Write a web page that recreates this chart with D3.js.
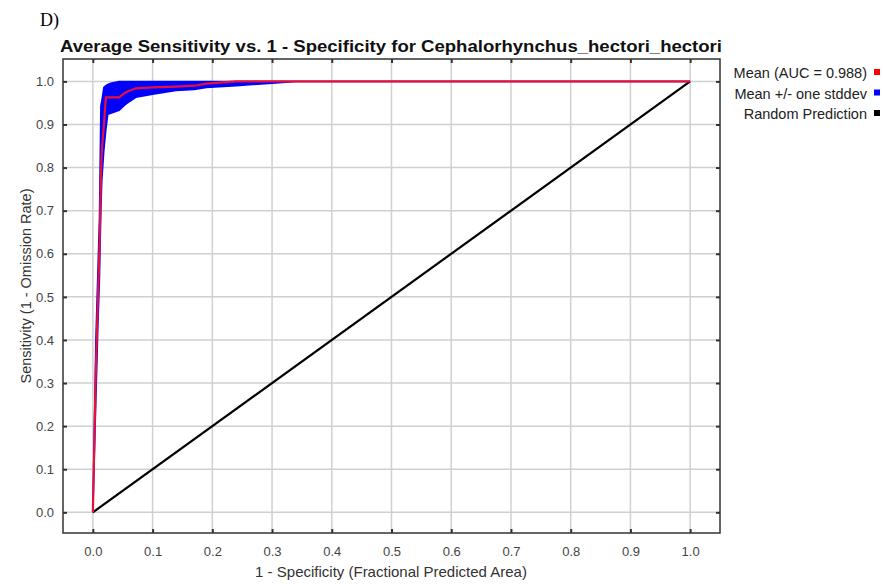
<!DOCTYPE html>
<head>
    <meta charset="utf-8">
    <style>
        body { margin: 0; background: #fff; }
        svg { display: block; }
    </style>
</head>
<body>
    <div id="chart-area"></div>
    <script src="https://cdn.jsdelivr.net/npm/d3@7"></script>
    <script>
        // (fractional predicted area vs sensitivity)
        var fpr   = [0, 0.005, 0.0084, 0.011, 0.0134, 0.015, 0.0184, 0.0217, 0.025, 0.030, 0.044, 0.055, 0.072, 0.10, 0.139, 0.17, 0.19, 0.24, 0.30, 0.34, 0.5, 1.0]
        var meanTpr  = [0, 0.331, 0.493, 0.609, 0.771, 0.840, 0.898, 0.963, 0.963, 0.963, 0.963, 0.975, 0.984, 0.986, 0.988, 0.990, 0.995, 1.0, 1.0, 1.0, 1.0, 1.0]
        var upperTpr = [0, 0.40, 0.56, 0.68, 0.944, 0.955, 0.986, 0.990, 0.993, 0.996, 1.0, 1.0, 1.0, 1.0, 1.0, 1.0, 1.0, 1.0, 1.0, 1.0, 1.0, 1.0]
        var lowerTpr = [0, 0.26, 0.43, 0.54, 0.70, 0.77, 0.84, 0.887, 0.924, 0.926, 0.933, 0.947, 0.963, 0.970, 0.979, 0.981, 0.986, 0.990, 0.996, 1.0, 1.0, 1.0]
        var randomX = [0, 1]
        var tickVals = [0, 0.1, 0.2, 0.3, 0.4, 0.5, 0.6, 0.7, 0.8, 0.9, 1.0]
        var legendLabels = ["Mean (AUC = 0.988)", "Mean +/- one stddev", "Random Prediction"]
        var legendColors = ["#ff0000", "#0000ff", "#000000"]

        var W = 883, H = 584
        var margins = { top: 59, left: 63, right: 163, bottom: 51 }
        var width = W - margins.left - margins.right,
            height = H - margins.top - margins.bottom

        var svg = d3.select("#chart-area").append("svg")
            .attr("width", W).attr("height", H)
            .style("font-family", "'Liberation Sans', Arial, sans-serif")

        var x = d3.scaleLinear().domain([-0.05, 1.05]).range([0, width])
        var y = d3.scaleLinear().domain([-0.048, 1.052]).range([height, 0])

        var g = svg.append("g").attr("transform", `translate(${margins.left},${margins.top})`)

        // grid
        g.selectAll(".vgrid").data(tickVals).join("line")
            .attr("x1", d => x(d)).attr("x2", d => x(d))
            .attr("y1", 0).attr("y2", height)
            .attr("stroke", "#d0d0d0").attr("stroke-width", 1.5)
        g.selectAll(".hgrid").data(tickVals).join("line")
            .attr("y1", d => y(d)).attr("y2", d => y(d))
            .attr("x1", 0).attr("x2", width)
            .attr("stroke", "#d0d0d0").attr("stroke-width", 1.5)

        var pts = fpr.map((f, i) => ({ x: f, m: meanTpr[i], lo: lowerTpr[i], hi: upperTpr[i] }))

        // stddev band
        var area = d3.area().x(d => x(d.x)).y0(d => y(d.lo)).y1(d => y(d.hi))
        g.append("path").datum(pts).attr("d", area)
            .attr("fill", "#0000ff").attr("stroke", "#0000ff").attr("stroke-width", 1.5)

        // random prediction
        var line = d3.line().x(d => x(d[0])).y(d => y(d[1]))
        g.append("path").datum(randomX.map(v => [v, v])).attr("d", line)
            .attr("fill", "none").attr("stroke", "#000").attr("stroke-width", 2.2)

        // mean
        g.append("path").datum(pts.map(d => [d.x, d.m])).attr("d", line)
            .attr("fill", "none").attr("stroke", "#e8103a").attr("stroke-width", 2.2)

        // axes with inward ticks on every side
        var fmt = d3.format(".1f")
        var axB = g.append("g").attr("transform", `translate(0,${height})`)
            .call(d3.axisBottom(x).tickValues(tickVals).tickSize(-4).tickPadding(14).tickFormat(fmt))
        var axT = g.append("g").call(d3.axisTop(x).tickValues(tickVals).tickSize(-4).tickFormat(""))
        var axL = g.append("g").call(d3.axisLeft(y).tickValues(tickVals).tickSize(-4).tickPadding(9).tickFormat(fmt))
        var axR = g.append("g").attr("transform", `translate(${width},0)`)
            .call(d3.axisRight(y).tickValues(tickVals).tickSize(-4).tickFormat(""));
        [axB, axT, axL, axR].forEach(a => {
            a.select(".domain").remove()
            a.selectAll(".tick line").attr("stroke", "#333").attr("stroke-width", 2)
            a.selectAll("text").attr("fill", "#444").style("font-size", "13px")
                .style("font-family", "'Liberation Sans', Arial, sans-serif")
        })

        g.append("rect").attr("width", width).attr("height", height)
            .attr("fill", "none").attr("stroke", "#333").attr("stroke-width", 1.5)

        // titles
        svg.append("text").attr("x", 40).attr("y", 26)
            .style("font-family", "'Liberation Serif', 'Times New Roman', serif")
            .style("font-size", "18px").text("D)")
        svg.append("text").attr("x", 60).attr("y", 52)
            .attr("textLength", 662).attr("lengthAdjust", "spacingAndGlyphs")
            .style("font-weight", "bold").style("font-size", "16px")
            .attr("fill", "#111")
            .text("Average Sensitivity vs. 1 - Specificity for Cephalorhynchus_hectori_hectori")
        svg.append("text").attr("x", 391).attr("y", 577)
            .attr("text-anchor", "middle").style("font-size", "15px").attr("fill", "#333")
            .text("1 - Specificity (Fractional Predicted Area)")
        svg.append("text")
            .attr("transform", `translate(31,${margins.top + height / 2 - 10}) rotate(-90)`)
            .attr("text-anchor", "middle").style("font-size", "14.5px").attr("fill", "#333")
            .text("Sensitivity (1 - Omission Rate)")

        // legend
        var leg = svg.append("g").selectAll("g").data(legendLabels).join("g")
            .attr("transform", (d, i) => `translate(0,${78 + i * 20.5})`)
        leg.append("text").attr("x", 867).attr("text-anchor", "end")
            .style("font-size", "14.5px").attr("fill", "#222").text(d => d)
        leg.append("rect").attr("x", 874).attr("y", -9).attr("width", 6).attr("height", 6)
            .attr("fill", (d, i) => legendColors[i])
    </script>
</body>
